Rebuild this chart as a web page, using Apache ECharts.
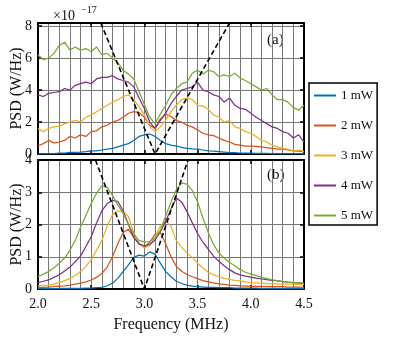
<!DOCTYPE html>
<html>
<head>
<meta charset="utf-8">
<script src="https://cdn.jsdelivr.net/npm/echarts@6/dist/echarts.min.js"></script>
<style>
  html, body { margin: 0; padding: 0; background: #fff; }
  #chart { width: 415px; height: 339px; }
</style>
</head>
<body>
<div id="chart"></div>
<script>
// frequency grid (MHz)
const freq = [2.00, 2.05, 2.10, 2.15, 2.20, 2.25, 2.30, 2.35, 2.40, 2.45,
  2.50, 2.55, 2.60, 2.65, 2.70, 2.75, 2.80, 2.85, 2.90, 2.95,
  3.00, 3.05, 3.10, 3.15, 3.20, 3.25, 3.30, 3.35, 3.40, 3.45,
  3.50, 3.55, 3.60, 3.65, 3.70, 3.75, 3.80, 3.85, 3.90, 3.95,
  4.00, 4.05, 4.10, 4.15, 4.20, 4.25, 4.30, 4.35, 4.40, 4.45, 4.50];

const names = ["1 mW", "2 mW", "3 mW", "4 mW", "5 mW"];
const colors = ["#0072BD", "#D95319", "#EDB120", "#7E2F8E", "#77AC30"];

// panel (a), PSD in units of 1e-17 W/Hz
const a1 = [0.00, 0.02, 0.02, 0.03, 0.05, 0.05, 0.10, 0.10, 0.12, 0.15,
  0.20, 0.20, 0.25, 0.30, 0.35, 0.45, 0.55, 0.65, 0.85, 1.10,
  1.20, 1.25, 1.10, 0.85, 0.65, 0.55, 0.50, 0.42, 0.35, 0.32,
  0.30, 0.25, 0.20, 0.18, 0.15, 0.12, 0.08, 0.08, 0.06, 0.05,
  0.05, 0.04, 0.04, 0.04, 0.03, 0.03, 0.03, 0.02, 0.02, 0.02, 0.02];
const a2 = [0.50, 0.65, 0.85, 0.70, 0.75, 0.85, 1.10, 1.00, 1.20, 1.10,
  1.40, 1.45, 1.70, 1.80, 2.00, 2.10, 2.30, 2.55, 2.65, 2.60,
  2.30, 1.80, 1.60, 2.20, 2.50, 2.35, 2.10, 2.00, 1.80, 1.70,
  1.50, 1.30, 1.20, 1.15, 1.00, 0.85, 0.75, 0.60, 0.55, 0.50,
  0.50, 0.48, 0.45, 0.40, 0.35, 0.30, 0.30, 0.25, 0.20, 0.18, 0.15];
const a3 = [1.60, 1.40, 1.60, 1.70, 1.75, 1.90, 2.00, 2.10, 2.00, 2.30,
  2.45, 2.65, 2.85, 3.05, 3.25, 3.40, 3.60, 3.70, 3.40, 2.95,
  2.45, 1.70, 1.40, 1.70, 2.10, 2.65, 3.05, 3.40, 3.50, 3.40,
  3.05, 3.00, 2.80, 2.45, 2.30, 2.00, 2.10, 1.70, 1.60, 1.40,
  1.30, 1.10, 0.85, 0.75, 0.55, 0.45, 0.35, 0.30, 0.20, 0.25, 0.15];
const a4 = [3.70, 3.60, 3.80, 3.85, 3.90, 4.10, 4.00, 4.30, 4.40, 4.50,
  4.40, 4.70, 4.80, 4.80, 4.90, 4.70, 4.60, 4.50, 4.20, 3.50,
  2.85, 2.00, 1.60, 2.10, 2.55, 3.15, 3.60, 4.00, 4.10, 4.20,
  4.50, 4.00, 3.90, 3.70, 3.60, 3.25, 3.50, 3.05, 2.85, 2.80,
  2.55, 2.30, 2.10, 1.90, 1.70, 1.60, 1.40, 1.30, 1.00, 1.20, 0.75];
const a5 = [6.20, 5.90, 6.00, 6.30, 6.80, 7.00, 6.50, 6.70, 6.50, 6.60,
  6.40, 6.70, 6.20, 6.30, 6.00, 5.70, 5.25, 5.00, 4.70, 3.90,
  3.10, 2.30, 1.90, 2.50, 3.05, 3.70, 4.10, 4.40, 4.50, 5.05,
  5.25, 5.00, 5.25, 5.15, 4.85, 4.95, 4.85, 5.05, 4.75, 4.60,
  4.40, 4.20, 4.00, 4.10, 3.70, 3.40, 3.40, 3.25, 2.90, 2.75, 3.05];

// panel (b)
const b1 = [0.01, 0.01, 0.01, 0.01, 0.02, 0.02, 0.02, 0.02, 0.02, 0.03,
  0.03, 0.04, 0.05, 0.10, 0.18, 0.33, 0.54, 0.75, 0.98, 1.05,
  1.02, 1.15, 1.08, 0.80, 0.54, 0.38, 0.24, 0.17, 0.12, 0.09,
  0.07, 0.06, 0.05, 0.05, 0.04, 0.04, 0.04, 0.03, 0.03, 0.03,
  0.03, 0.03, 0.02, 0.02, 0.02, 0.02, 0.02, 0.02, 0.02, 0.02, 0.02];
const b2 = [0.04, 0.05, 0.06, 0.07, 0.09, 0.10, 0.12, 0.15, 0.18, 0.22,
  0.28, 0.36, 0.48, 0.68, 1.00, 1.40, 1.75, 1.85, 1.60, 1.40,
  1.30, 1.45, 1.70, 1.75, 1.40, 1.00, 0.70, 0.55, 0.45, 0.38,
  0.32, 0.26, 0.22, 0.19, 0.16, 0.14, 0.12, 0.11, 0.10, 0.09,
  0.08, 0.08, 0.08, 0.07, 0.07, 0.07, 0.07, 0.06, 0.06, 0.06, 0.06];
const b3 = [0.10, 0.11, 0.12, 0.15, 0.20, 0.26, 0.33, 0.42, 0.54, 0.70,
  0.90, 1.20, 1.50, 1.95, 2.30, 2.42, 2.40, 2.25, 1.75, 1.42,
  1.27, 1.35, 1.62, 1.95, 2.12, 1.95, 1.50, 1.30, 1.12, 0.98,
  0.80, 0.65, 0.52, 0.44, 0.38, 0.33, 0.30, 0.27, 0.25, 0.22,
  0.20, 0.19, 0.18, 0.17, 0.16, 0.16, 0.15, 0.15, 0.15, 0.14, 0.14];
const b4 = [0.20, 0.24, 0.28, 0.36, 0.44, 0.56, 0.68, 0.85, 1.02, 1.32,
  1.62, 2.05, 2.42, 2.65, 2.75, 2.72, 2.42, 2.00, 1.60, 1.40,
  1.34, 1.38, 1.52, 1.78, 2.10, 2.48, 2.82, 2.70, 2.40, 2.05,
  1.72, 1.45, 1.24, 1.02, 0.86, 0.72, 0.60, 0.50, 0.44, 0.40,
  0.37, 0.34, 0.31, 0.29, 0.27, 0.25, 0.23, 0.21, 0.20, 0.19, 0.18];
const b5 = [0.38, 0.46, 0.54, 0.66, 0.80, 0.96, 1.20, 1.50, 1.92, 2.28,
  2.65, 2.97, 3.20, 3.15, 2.90, 2.60, 2.35, 2.00, 1.70, 1.50,
  1.46, 1.47, 1.58, 1.82, 2.26, 2.70, 3.08, 3.28, 3.25, 3.05,
  2.70, 2.20, 1.75, 1.38, 1.12, 0.96, 0.82, 0.72, 0.60, 0.52,
  0.46, 0.42, 0.36, 0.32, 0.28, 0.26, 0.23, 0.21, 0.20, 0.19, 0.17];

// dashed guide lines [freq, psd]
const dashA = [[2.59, 8.2], [3.1, 0], [3.8, 8.2]];
const dashB = [[2.54, 4], [3.0, 0], [3.41, 4]];

const topData = [a1, a2, a3, a4, a5];
const botData = [b1, b2, b3, b4, b5];

const font = "Liberation Serif";
const gridColor = "#777";

function pts(ys) {
  return freq.map((f, i) => [f, ys[i]]);
}

function xAx(gi, pos, labels) {
  return {
    type: "value", gridIndex: gi, position: pos,
    min: 2, max: 4.5, interval: 0.5,
    axisLine: { show: true, onZero: false, lineStyle: { color: "#000", width: 2 } },
    axisTick: { show: true, inside: true, length: 4, lineStyle: { color: "#000", width: 1.5 } },
    axisLabel: {
      show: labels, margin: 8, color: "#111", fontFamily: font, fontSize: 14,
      formatter: (v) => v.toFixed(1)
    },
    splitLine: { show: pos === "bottom", lineStyle: { color: gridColor, width: 1 } },
    minorTick: { show: false, splitNumber: 5 },
    minorSplitLine: { show: pos === "bottom", lineStyle: { color: gridColor, width: 1 } },
    name: labels ? "Frequency (MHz)" : "",
    nameLocation: "middle", nameGap: 28, nameMoveOverlap: false,
    nameTextStyle: { color: "#111", fontFamily: font, fontSize: 16 }
  };
}

function yAx(gi, pos, max, step) {
  return {
    type: "value", gridIndex: gi, position: pos,
    min: 0, max: max, interval: step,
    axisLine: { show: true, onZero: false, lineStyle: { color: "#000", width: 2 } },
    axisTick: { show: true, inside: true, length: 4, lineStyle: { color: "#000", width: 1.5 } },
    axisLabel: {
      show: pos === "left", margin: 6, color: "#111", fontFamily: font, fontSize: 14,
      formatter: (v) => (Math.abs(v / step - Math.round(v / step)) < 1e-6 ? String(v) : "")
    },
    splitLine: { show: pos === "left", lineStyle: { color: gridColor, width: 1 } },
    name: pos === "left" ? "PSD (W/Hz)" : "",
    nameLocation: "middle", nameGap: 13, nameMoveOverlap: false,
    nameTextStyle: { color: "#111", fontFamily: font, fontSize: 16 }
  };
}

const series = [];
topData.forEach((d, i) => {
  series.push({
    name: names[i], type: "line", xAxisIndex: 0, yAxisIndex: 0,
    data: pts(d), showSymbol: false, symbol: "none",
    lineStyle: { color: colors[i], width: 1.25 }, itemStyle: { color: colors[i] }
  });
});
botData.forEach((d, i) => {
  series.push({
    name: names[i], type: "line", xAxisIndex: 2, yAxisIndex: 2,
    data: pts(d), showSymbol: false, symbol: "none",
    lineStyle: { color: colors[i], width: 1.25 }, itemStyle: { color: colors[i] }
  });
});
series.push({
  type: "line", xAxisIndex: 0, yAxisIndex: 0, data: dashA, symbol: "none",
  lineStyle: { color: "#000", width: 1.6, type: [5, 3] }, z: 5
});
series.push({
  type: "line", xAxisIndex: 2, yAxisIndex: 2, data: dashB, symbol: "none",
  lineStyle: { color: "#000", width: 1.6, type: [5, 3] }, z: 5
});

const chart = echarts.init(document.getElementById("chart"));
chart.setOption({
  animation: false,
  backgroundColor: "#fff",
  grid: [
    { left: 38, top: 23, width: 266, height: 131, containLabel: false, outerBoundsMode: "none" },
    { left: 38, top: 160, width: 266, height: 129, containLabel: false, outerBoundsMode: "none" }
  ],
  xAxis: [xAx(0, "bottom", false), xAx(0, "top", false), xAx(1, "bottom", true), xAx(1, "top", false)],
  yAxis: [yAx(0, "left", 8.2, 2), yAx(0, "right", 8.2, 2), yAx(1, "left", 4, 1), yAx(1, "right", 4, 1)],
  legend: {
    data: names, orient: "vertical", left: 309, top: 83,
    icon: "rect", itemWidth: 22, itemHeight: 2, itemGap: 17,
    padding: [6, 4, 3, 5],
    borderColor: "#000", borderWidth: 1.5,
    textStyle: { fontFamily: font, fontSize: 13, color: "#111" },
    selectedMode: false
  },
  graphic: [
    { type: "text", left: 53, top: 9, style: { text: "×10", font: "14px " + font, fill: "#111" } },
    { type: "text", left: 81, top: 5, style: { text: "−17", font: "10px " + font, fill: "#111" } },
    { type: "text", left: 267, top: 33, style: { text: "(a)", font: "15px " + font, fill: "#111" } },
    { type: "text", left: 267, top: 168, style: { text: "(b)", font: "15px " + font, fill: "#111" } }
  ],
  series: series
});
</script>
</body>
</html>
